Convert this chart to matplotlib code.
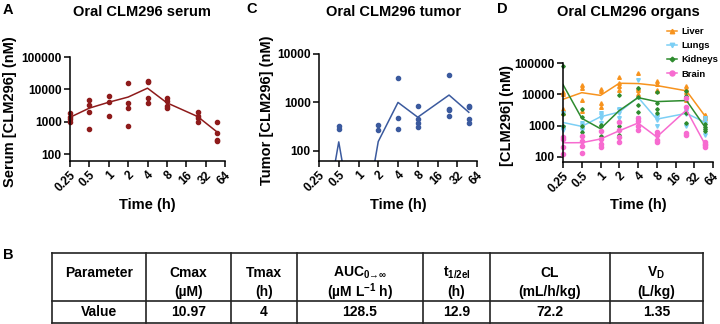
import numpy as np
import matplotlib
matplotlib.use('Agg')
import matplotlib.pyplot as plt
from matplotlib.lines import Line2D
from matplotlib.ticker import FixedLocator, NullLocator, FixedFormatter

plt.rcParams['font.family'] = ['Liberation Sans', 'DejaVu Sans']
plt.rcParams['font.weight'] = 'bold'
plt.rcParams['mathtext.fontset'] = 'custom'
plt.rcParams['mathtext.rm'] = 'Liberation Sans:bold'
plt.rcParams['mathtext.it'] = 'Liberation Sans:bold'
plt.rcParams['mathtext.bf'] = 'Liberation Sans:bold'
plt.rcParams['axes.linewidth'] = 1.1

# ---- data (nM), sampling times in hours ----
times = [0.25, 0.5, 1, 2, 4, 8, 24, 48]
xticks = [0.25, 0.5, 1, 2, 4, 8, 16, 32, 64]
xticklabels = ['0.25', '0.5', '1', '2', '4', '8', '16', '32', '64']

serum = [
    [1900, 1430, 1210, 980],
    [4680, 3360, 1950, 620],
    [6370, 4160, 1540],
    [16060, 3870, 2580, 735],
    [18100, 16450, 5390, 3770],
    [5520, 4250, 3050, 2640],
    [1990, 1500, 1330, 1020],
    [990, 447, 271, 252],
]

tumor = [
    [0, 0, 0, 0],
    [330, 285, 0, 0],
    [0, 0, 0, 0],
    [350, 275, 0, 0],
    [3240, 480, 290, 0],
    [840, 450, 380, 315],
    [3730, 740, 695, 520],
    [850, 815, 460, 385],
]

liver = [
    [11500, 10000, 3500, 2600],
    [20000, 15500, 6600, 2900],
    [15000, 12500, 5300, 4000],
    [35000, 23000, 18000, 14000],
    [48000, 16000, 14000, 10000],
    [27000, 22000, 14000, 13000],
    [18000, 15000, 12000, 6500],
    [2200, 2100, 1900, 1700],
]
lungs = [
    [2600, 900, 800, 700],
    [1200, 1050, 800, 700],
    [2500, 2200, 1700, 1200],
    [3400, 3200, 2500, 1700],
    [28000, 1700, 1500, 900],
    [2000, 1900, 1500, 1000],
    [3500, 3000, 2300, 1000],
    [1800, 1500, 1200, 500],
]
kidneys = [
    [78000, 2300, 950, 420],
    [3300, 1900, 1000, 600],
    [1050, 1000, 650, 460],
    [9200, 1300, 1000, 500],
    [16000, 8000, 4500, 2700],
    [12000, 5400, 3400, 2500],
    [13000, 8500, 2500, 1200],
    [1100, 900, 800, 680],
]
brain = [
    [420, 380, 200, 120],
    [450, 330, 220, 130],
    [650, 380, 250, 200],
    [1300, 700, 420, 300],
    [1700, 1400, 1000, 700],
    [600, 480, 350, 290],
    [7500, 4000, 560, 500],
    [290, 260, 230, 200],
]

organ_names = ['Liver', 'Lungs', 'Kidneys', 'Brain']
organ_data = [liver, lungs, kidneys, brain]
organ_colors = ['#F7931E', '#7CCFF5', '#2E8B2E', '#F76BD0']
organ_markers = ['^', 'v', 'D', 'o']
organ_msize = [2.6, 2.6, 1.8, 3.0]

table_cols = ['Parameter', 'Cmax\n(\u00b5M)', 'Tmax\n(h)',
              'AUC$_{0\u2192\u221e}$\n(\u00b5M L$^{-1}$ h)',
              't$_{1/2el}$\n(h)', 'CL\n(mL/h/kg)', 'V$_{D}$\n(L/kg)']
table_vals = ['Value', '10.97', '4', '128.5', '12.9', '72.2', '1.35']

W, H = 720, 324


def fx(px):
    return px / W


def fy(py):
    return 1 - py / H


fig = plt.figure(figsize=(7.2, 3.24), dpi=100)


def setup_axes(left, top, right, bottom, ylim, yticks, ylabel, ylab_x):
    ax = fig.add_axes([fx(left), fy(bottom), fx(right - left), (bottom - top) / H])
    ax.set_xscale('log', base=2)
    ax.set_yscale('log')
    ax.set_xlim(0.25, 64)
    ax.set_ylim(*ylim)
    ax.xaxis.set_major_locator(FixedLocator(xticks))
    ax.xaxis.set_major_formatter(FixedFormatter(xticklabels))
    ax.xaxis.set_minor_locator(NullLocator())
    ax.yaxis.set_major_locator(FixedLocator(yticks))
    ax.yaxis.set_major_formatter(FixedFormatter([str(t) for t in yticks]))
    ax.yaxis.set_minor_locator(NullLocator())
    ax.tick_params(length=4, width=1.1, labelsize=8.6, pad=2)
    for lab in ax.get_xticklabels():
        lab.set_rotation(45)
        lab.set_ha('right')
        lab.set_va('top')
        lab.set_rotation_mode('anchor')
    for s in ['top', 'right']:
        ax.spines[s].set_visible(False)
    ax.spines['left'].set_bounds(ylim[0], yticks[-1])
    ax.set_xlabel('Time (h)', fontsize=10.5, fontweight='bold')
    ax.xaxis.set_label_coords(0.5, -(198 - bottom) / (bottom - top))
    ax.set_ylabel(ylabel, fontsize=10.5, fontweight='bold')
    # label coords give the right edge of the rotated label
    ax.yaxis.set_label_coords((ylab_x - left) / (right - left), 0.47)
    return ax


def plot_group(ax, reps, color, marker, ms, floor=None):
    means = np.array([np.mean(r) for r in reps])
    if floor is not None:
        means = np.where(means > 0, means, floor)
    ax.plot(times, means, color=color, lw=1.1)
    for t, r in zip(times, reps):
        r = np.array(r, dtype=float)
        r = r[r > 0]
        ax.plot([t] * len(r), r, ls='none', marker=marker, ms=ms,
                color=color, mec=color, clip_on=False)


# A: serum
axA = setup_axes(70, 57, 225, 161, (62, 100000), [100, 1000, 10000, 100000],
                 'Serum [CLM296] (nM)', 17)
plot_group(axA, serum, '#8E1B1B', 'o', 3.0)

# C: tumor
axC = setup_axes(319, 54, 477, 161, (62, 10000), [100, 1000, 10000],
                 'Tumor [CLM296] (nM)', 274)
plot_group(axC, tumor, '#3B5A9E', 'o', 3.0, floor=0.7)

# D: organs
axD = setup_axes(563, 63, 713, 162, (68, 100000), [100, 1000, 10000, 100000],
                 '[CLM296] (nM)', 514)
handles = []
for name, reps, c, m, ms in zip(organ_names, organ_data, organ_colors,
                                organ_markers, organ_msize):
    plot_group(axD, reps, c, m, ms)
    handles.append(Line2D([], [], color=c, lw=1.1, marker=m, ms=ms + 0.6, label=name))
fig.legend(handles=handles, loc='upper left',
           bbox_to_anchor=(fx(667), fy(27)), frameon=False,
           fontsize=6.8, handlelength=1.1, handletextpad=0.45,
           labelspacing=0.55, borderpad=0, borderaxespad=0)

# titles and panel letters
fig.text(fx(142), fy(12), 'Oral CLM296 serum', ha='center', va='center', fontsize=10.5)
fig.text(fx(394), fy(12), 'Oral CLM296 tumor', ha='center', va='center', fontsize=10.5)
fig.text(fx(628), fy(12), 'Oral CLM296 organs', ha='center', va='center', fontsize=10.5)
for letter, px, py in [('A', 3, 10), ('C', 246, 9), ('D', 497, 9), ('B', 3, 255)]:
    fig.text(fx(px), fy(py), letter, ha='left', va='center', fontsize=10.5)

# B: PK parameter table
col_edges = [52, 146, 231, 297, 423, 490, 610, 703]
row_edges = [253, 301, 323]
axT = fig.add_axes([0, 0, 1, 1])
axT.set_xlim(0, W)
axT.set_ylim(H, 0)
axT.axis('off')
for xe in col_edges:
    axT.plot([xe, xe], [row_edges[0], row_edges[-1]], color='#222222', lw=1.2)
for ye in row_edges:
    axT.plot([col_edges[0], col_edges[-1]], [ye, ye], color='#222222', lw=1.2)
for i, (hdr, val) in enumerate(zip(table_cols, table_vals)):
    cx = (col_edges[i] + col_edges[i + 1]) / 2
    lines = hdr.split('\n')
    axT.text(cx, 273, lines[0], ha='center', va='center', fontsize=10)
    if len(lines) > 1:
        axT.text(cx, 292, lines[1], ha='center', va='center', fontsize=10)
    axT.text(cx, 312, val, ha='center', va='center', fontsize=10)

fig.savefig('out.png', dpi=100)
